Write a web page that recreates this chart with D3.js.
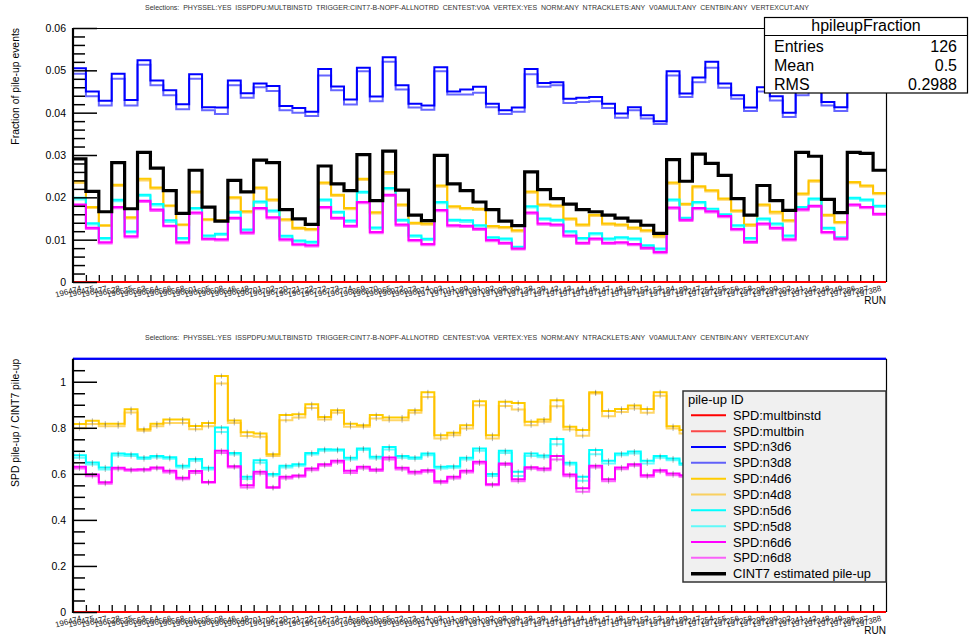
<!DOCTYPE html>
<html><head><meta charset="utf-8">
<script src="https://cdn.jsdelivr.net/npm/d3@7"></script>
<style>body{margin:0;background:#fff}svg{display:block;font-family:"Liberation Sans",Arial,sans-serif}</style>
</head><body><svg id="c" width="969" height="639"></svg>
<script>
const runs=["196474","196475","196477","196528","196535","196563","196564","196566","196568","196601","196605","196608","196646","196648","196701","196702","196720","196721","196722","196772","196773","196774","196869","196870","196965","196972","196973","196974","197003","197011","197089","197091","197092","197098","197099","197138","197139","197142","197143","197144","197145","197147","197148","197150","197152","197153","197184","197189","197247","197254","197255","197256","197258","197298","197299","197302","197341","197342","197348","197349","197386","197387","197388"];
const zeros=[0,0,0,0,0,0,0,0,0,0,0,0,0,0,0,0,0,0,0,0,0,0,0,0,0,0,0,0,0,0,0,0,0,0,0,0,0,0,0,0,0,0,0,0,0,0,0,0,0,0,0,0,0,0,0,0,0,0,0,0,0,0,0];
// top panel: fraction of pile-up events
const n3d6=[0.0505,0.0450,0.0428,0.0492,0.0430,0.0524,0.0476,0.0453,0.0420,0.0491,0.0413,0.0412,0.0476,0.0446,0.0469,0.0463,0.0416,0.0411,0.0402,0.0503,0.0462,0.0431,0.0506,0.0438,0.0531,0.0465,0.0421,0.0417,0.0507,0.0450,0.0455,0.0461,0.0421,0.0406,0.0412,0.0503,0.0470,0.0472,0.0433,0.0435,0.0437,0.0421,0.0398,0.0413,0.0394,0.0380,0.0498,0.0445,0.0483,0.0520,0.0469,0.0441,0.0412,0.0460,0.0439,0.0400,0.0452,0.0470,0.0425,0.0413,0.0480,0.0490,0.0475];
const n3d8=[0.0492,0.0439,0.0417,0.0480,0.0417,0.0513,0.0465,0.0441,0.0408,0.0480,0.0406,0.0397,0.0465,0.0435,0.0460,0.0451,0.0406,0.0400,0.0392,0.0488,0.0453,0.0419,0.0498,0.0427,0.0520,0.0455,0.0412,0.0407,0.0498,0.0443,0.0443,0.0447,0.0413,0.0397,0.0402,0.0491,0.0461,0.0465,0.0423,0.0425,0.0427,0.0411,0.0388,0.0406,0.0386,0.0373,0.0488,0.0437,0.0472,0.0506,0.0459,0.0433,0.0404,0.0450,0.0429,0.0390,0.0441,0.0460,0.0417,0.0404,0.0470,0.0480,0.0465];
const n4d6=[0.0238,0.0177,0.0134,0.0230,0.0153,0.0244,0.0223,0.0181,0.0136,0.0214,0.0148,0.0146,0.0200,0.0167,0.0223,0.0195,0.0148,0.0128,0.0125,0.0235,0.0206,0.0175,0.0244,0.0165,0.0260,0.0183,0.0140,0.0138,0.0228,0.0179,0.0175,0.0173,0.0132,0.0130,0.0122,0.0214,0.0183,0.0181,0.0150,0.0136,0.0159,0.0138,0.0136,0.0129,0.0122,0.0110,0.0235,0.0185,0.0226,0.0217,0.0197,0.0169,0.0136,0.0183,0.0166,0.0146,0.0209,0.0240,0.0159,0.0142,0.0236,0.0228,0.0210];
const n4d8=[0.0234,0.0175,0.0132,0.0227,0.0150,0.0240,0.0220,0.0179,0.0134,0.0211,0.0146,0.0144,0.0197,0.0164,0.0220,0.0192,0.0145,0.0125,0.0122,0.0232,0.0203,0.0172,0.0241,0.0162,0.0256,0.0180,0.0137,0.0135,0.0225,0.0176,0.0172,0.0170,0.0129,0.0127,0.0119,0.0211,0.0180,0.0178,0.0147,0.0133,0.0156,0.0135,0.0133,0.0125,0.0119,0.0106,0.0232,0.0182,0.0223,0.0214,0.0194,0.0166,0.0132,0.0180,0.0162,0.0143,0.0206,0.0237,0.0156,0.0139,0.0233,0.0225,0.0207];
const n5d6=[0.0199,0.0139,0.0104,0.0194,0.0119,0.0206,0.0184,0.0146,0.0104,0.0175,0.0110,0.0114,0.0166,0.0124,0.0190,0.0169,0.0109,0.0098,0.0095,0.0195,0.0166,0.0145,0.0213,0.0129,0.0222,0.0147,0.0110,0.0102,0.0189,0.0147,0.0146,0.0134,0.0106,0.0103,0.0083,0.0179,0.0150,0.0147,0.0120,0.0104,0.0115,0.0103,0.0106,0.0103,0.0087,0.0079,0.0195,0.0152,0.0189,0.0173,0.0160,0.0134,0.0104,0.0150,0.0138,0.0110,0.0177,0.0197,0.0128,0.0106,0.0199,0.0195,0.0180];
const n5d8=[0.0195,0.0136,0.0101,0.0191,0.0117,0.0203,0.0181,0.0142,0.0101,0.0172,0.0107,0.0111,0.0163,0.0121,0.0187,0.0166,0.0106,0.0095,0.0092,0.0192,0.0163,0.0142,0.0210,0.0126,0.0219,0.0144,0.0107,0.0099,0.0186,0.0144,0.0142,0.0131,0.0103,0.0100,0.0081,0.0176,0.0147,0.0144,0.0117,0.0101,0.0112,0.0100,0.0103,0.0100,0.0084,0.0076,0.0192,0.0149,0.0186,0.0169,0.0157,0.0131,0.0101,0.0147,0.0135,0.0107,0.0174,0.0194,0.0125,0.0103,0.0196,0.0192,0.0177];
const n6d6=[0.0183,0.0128,0.0094,0.0177,0.0108,0.0192,0.0171,0.0133,0.0094,0.0164,0.0102,0.0101,0.0152,0.0117,0.0175,0.0153,0.0101,0.0089,0.0087,0.0177,0.0152,0.0133,0.0189,0.0118,0.0206,0.0136,0.0099,0.0090,0.0170,0.0134,0.0133,0.0126,0.0099,0.0093,0.0079,0.0164,0.0138,0.0136,0.0110,0.0093,0.0103,0.0093,0.0094,0.0090,0.0081,0.0071,0.0176,0.0147,0.0175,0.0167,0.0156,0.0125,0.0095,0.0138,0.0128,0.0101,0.0172,0.0180,0.0118,0.0103,0.0183,0.0177,0.0161];
const n6d8=[0.0180,0.0125,0.0091,0.0174,0.0105,0.0189,0.0168,0.0131,0.0091,0.0161,0.0100,0.0098,0.0149,0.0114,0.0172,0.0150,0.0098,0.0087,0.0084,0.0174,0.0149,0.0130,0.0186,0.0115,0.0203,0.0133,0.0096,0.0087,0.0167,0.0131,0.0130,0.0123,0.0096,0.0090,0.0077,0.0161,0.0135,0.0133,0.0107,0.0090,0.0100,0.0090,0.0091,0.0087,0.0078,0.0068,0.0173,0.0144,0.0172,0.0164,0.0153,0.0122,0.0092,0.0135,0.0125,0.0098,0.0169,0.0177,0.0115,0.0100,0.0180,0.0174,0.0158];
const cint7=[0.0291,0.0214,0.0166,0.0282,0.0173,0.0306,0.0269,0.0216,0.0162,0.0264,0.0177,0.0144,0.0240,0.0213,0.0288,0.0282,0.0171,0.0149,0.0136,0.0274,0.0232,0.0216,0.0301,0.0192,0.0309,0.0217,0.0158,0.0145,0.0299,0.0232,0.0216,0.0189,0.0171,0.0144,0.0133,0.0260,0.0218,0.0197,0.0184,0.0171,0.0166,0.0158,0.0151,0.0144,0.0134,0.0115,0.0289,0.0238,0.0302,0.0280,0.0252,0.0197,0.0158,0.0228,0.0192,0.0169,0.0306,0.0297,0.0195,0.0164,0.0306,0.0304,0.0264];
// bottom panel: SPD pile-up / CINT7 pile-up
const r3d6=[1.74,2.10,2.58,1.74,2.49,1.71,1.77,2.10,2.59,1.86,2.33,2.86,1.98,2.09,1.63,1.64,2.43,2.76,2.96,1.84,1.99,2.00,1.68,2.28,1.72,2.14,2.66,2.88,1.70,1.94,2.11,2.44,2.46,2.82,3.10,1.93,2.16,2.40,2.35,2.54,2.63,2.66,2.64,2.87,2.94,3.30,1.72,1.87,1.60,1.86,1.86,2.24,2.61,2.02,2.29,2.37,1.48,1.58,2.18,2.52,1.57,1.61,1.80];
const r3d8=[1.69,2.05,2.51,1.70,2.41,1.68,1.73,2.04,2.52,1.82,2.29,2.76,1.94,2.04,1.60,1.60,2.37,2.68,2.88,1.78,1.95,1.94,1.65,2.22,1.68,2.10,2.61,2.81,1.67,1.91,2.05,2.37,2.42,2.76,3.02,1.89,2.11,2.36,2.30,2.49,2.57,2.60,2.57,2.82,2.88,3.24,1.69,1.84,1.56,1.81,1.82,2.20,2.56,1.97,2.23,2.31,1.44,1.55,2.14,2.46,1.54,1.58,1.76];
const r4d6=[0.816,0.830,0.818,0.818,0.881,0.794,0.818,0.836,0.836,0.808,0.821,1.025,0.832,0.781,0.775,0.685,0.855,0.859,0.902,0.847,0.876,0.818,0.811,0.855,0.845,0.845,0.876,0.954,0.768,0.778,0.811,0.915,0.768,0.913,0.908,0.826,0.836,0.920,0.804,0.790,0.954,0.873,0.882,0.897,0.882,0.954,0.807,0.790,0.748,0.775,0.782,0.858,0.861,0.803,0.865,0.864,0.683,0.808,0.815,0.866,0.771,0.750,0.795];
const r4d8=[0.798,0.816,0.807,0.807,0.866,0.787,0.807,0.821,0.821,0.794,0.807,0.992,0.821,0.764,0.761,0.678,0.833,0.845,0.886,0.836,0.865,0.804,0.804,0.840,0.833,0.833,0.865,0.934,0.753,0.768,0.797,0.898,0.753,0.895,0.879,0.811,0.826,0.894,0.792,0.765,0.949,0.850,0.869,0.884,0.865,0.939,0.797,0.775,0.736,0.763,0.770,0.846,0.849,0.791,0.853,0.852,0.671,0.796,0.803,0.854,0.759,0.738,0.783];
const r5d6=[0.681,0.649,0.628,0.688,0.685,0.671,0.678,0.672,0.635,0.664,0.626,0.801,0.691,0.587,0.659,0.599,0.635,0.642,0.691,0.707,0.706,0.670,0.710,0.674,0.717,0.678,0.671,0.688,0.631,0.633,0.670,0.710,0.599,0.700,0.609,0.688,0.680,0.751,0.648,0.587,0.703,0.657,0.688,0.697,0.657,0.677,0.667,0.645,0.626,0.618,0.635,0.680,0.658,0.658,0.719,0.651,0.578,0.663,0.656,0.646,0.650,0.641,0.682];
const r5d8=[0.670,0.641,0.619,0.680,0.677,0.664,0.671,0.665,0.628,0.657,0.619,0.782,0.684,0.578,0.648,0.593,0.628,0.635,0.684,0.700,0.700,0.662,0.703,0.667,0.706,0.670,0.664,0.681,0.623,0.626,0.662,0.700,0.591,0.691,0.591,0.678,0.672,0.729,0.641,0.570,0.685,0.645,0.681,0.688,0.645,0.670,0.659,0.638,0.617,0.609,0.626,0.671,0.649,0.649,0.710,0.642,0.569,0.654,0.647,0.637,0.641,0.632,0.673];
const r6d6=[0.631,0.597,0.563,0.626,0.619,0.620,0.628,0.613,0.583,0.612,0.565,0.700,0.633,0.550,0.609,0.542,0.587,0.593,0.623,0.642,0.657,0.613,0.631,0.619,0.671,0.626,0.609,0.616,0.568,0.587,0.613,0.652,0.555,0.645,0.576,0.629,0.623,0.677,0.597,0.537,0.635,0.576,0.628,0.642,0.594,0.616,0.602,0.594,0.579,0.596,0.619,0.635,0.601,0.605,0.667,0.598,0.562,0.606,0.605,0.628,0.598,0.582,0.610];
const r6d8=[0.623,0.590,0.557,0.620,0.613,0.615,0.622,0.606,0.577,0.604,0.561,0.691,0.628,0.541,0.600,0.538,0.580,0.587,0.616,0.635,0.649,0.604,0.623,0.612,0.662,0.619,0.602,0.609,0.561,0.580,0.606,0.645,0.550,0.638,0.568,0.622,0.616,0.662,0.590,0.522,0.628,0.568,0.620,0.635,0.587,0.609,0.594,0.587,0.572,0.589,0.612,0.628,0.594,0.598,0.660,0.591,0.555,0.599,0.598,0.621,0.591,0.575,0.603];
const legendLabels=["SPD:multbinstd","SPD:multbin","SPD:n3d6","SPD:n3d8","SPD:n4d6","SPD:n4d8","SPD:n5d6","SPD:n5d8","SPD:n6d6","SPD:n6d8","CINT7 estimated pile-up"];
const topTicks=[0,0.01,0.02,0.03,0.04,0.05,0.06];
const botTicks=[0,0.2,0.4,0.6,0.8,1];
const selText="Selections:  PHYSSEL:YES  ISSPDPU:MULTBINSTD  TRIGGER:CINT7-B-NOPF-ALLNOTRD  CENTEST:V0A  VERTEX:YES  NORM:ANY  NTRACKLETS:ANY  V0AMULT:ANY  CENTBIN:ANY  VERTEXCUT:ANY";
const stats=[["Entries","126"],["Mean","0.5"],["RMS","0.2988"]];

// styles
const styles=[
 {c:"#ff0000",o:1,w:2},{c:"#ff0000",o:0.7,w:2},
 {c:"#0000ff",o:1,w:2},{c:"#0000ff",o:0.6,w:2},
 {c:"#ffcc00",o:1,w:2},{c:"#ffbb00",o:0.6,w:2},
 {c:"#00ffff",o:1,w:2},{c:"#00ffff",o:0.6,w:2},
 {c:"#ff00ff",o:1,w:2},{c:"#ff00ff",o:0.6,w:2},
 {c:"#000000",o:1,w:3.2}];

const svg=d3.select("#c");
svg.append("rect").attr("width",969).attr("height",639).attr("fill","#fff");
const X0=73,X1=886;
const nb=runs.length;
const x=d3.scaleLinear().domain([0,nb]).range([X0,X1]);
const xb=d3.scaleBand().domain(runs).range([X0,X1]);

function panel(o){
  const y=d3.scaleLinear().domain(o.dom).range([o.yb,o.yt]).clamp(true);
  const g=svg.append("g");
  const cid="clip"+o.id;
  svg.append("defs").append("clipPath").attr("id",cid).append("rect")
    .attr("x",X0).attr("y",o.yt-2).attr("width",X1-X0).attr("height",o.yb-o.yt+4);
  g.append("line").attr("x1",X0).attr("x2",X1).attr("y1",o.yt+0.5).attr("y2",o.yt+0.5).attr("stroke","#000").attr("stroke-width",1);
  g.append("line").attr("x1",X1+0.5).attr("x2",X1+0.5).attr("y1",o.yt).attr("y2",o.yb).attr("stroke","#000").attr("stroke-width",1.2);
  const xa=g.append("g").attr("transform",`translate(0,${o.yb})`)
    .call(d3.axisBottom(x).tickValues(d3.range(1,nb)).tickSize(-7).tickFormat(""));
  xa.select(".domain").remove();
  xa.selectAll("line").attr("stroke","#000").attr("stroke-width",1.3);
  const xl=g.append("g").attr("transform",`translate(0,${o.yb})`)
    .call(d3.axisBottom(xb).tickSize(0).tickPadding(0));
  xl.select(".domain").remove();
  xl.selectAll("text").attr("x",0).attr("y",9).attr("dy",0)
    .attr("text-anchor","end").attr("transform","rotate(-15)")
    .attr("font-size",8).attr("fill","#222").attr("font-family","Liberation Sans, Arial, sans-serif");
  const hg=g.append("g").attr("clip-path",`url(#${cid})`);
  const line=d3.line().x(d=>x(d[0])).y(d=>y(d[1]));
  o.series.forEach(s=>{
    const pts=[];
    s.v.forEach((v,i)=>{pts.push([i,v]);pts.push([i+1,v]);});
    hg.append("path").attr("d",line(pts)).attr("fill","none")
      .attr("stroke",s.st.c).attr("stroke-opacity",s.st.o).attr("stroke-width",s.st.w)
      .attr("stroke-linejoin","miter");
    if(o.errbars && s.eb){
      hg.append("g").selectAll("line").data(s.v).join("line")
        .attr("x1",(d,i)=>x(i+0.5)).attr("x2",(d,i)=>x(i+0.5))
        .attr("y1",d=>y(d)-2.5).attr("y2",d=>y(d)+2.5)
        .attr("stroke","#555").attr("stroke-opacity",0.45).attr("stroke-width",1);
    }
  });
  const ym=g.append("g").attr("transform",`translate(${X0},0)`)
    .call(d3.axisLeft(y).tickValues(o.minor).tickSize(-12).tickFormat(""));
  ym.select(".domain").remove();
  ym.selectAll("line").attr("stroke","#000").attr("stroke-width",1.5);
  const ya=g.append("g").attr("transform",`translate(${X0},0)`)
    .call(d3.axisLeft(y).tickValues(o.major).tickSize(-24).tickPadding(7).tickFormat(d=>String(+d.toFixed(2))));
  ya.select(".domain").remove();
  ya.selectAll("line").attr("stroke","#000").attr("stroke-width",1.5);
  ya.selectAll("text").attr("font-size",10.5).attr("fill","#000").attr("font-family","Liberation Sans, Arial, sans-serif");
  g.append("line").attr("x1",X0).attr("x2",X0).attr("y1",o.yt).attr("y2",o.yb+1).attr("stroke","#000").attr("stroke-width",2.2);
  g.append("text").attr("x",145).attr("y",o.yt-18.5).attr("font-size",7).attr("fill","#333")
    .attr("textLength",664).attr("lengthAdjust","spacingAndGlyphs").style("white-space","pre").text(selText);
  g.append("text").attr("transform",`translate(18.5,${o.yt}) rotate(-90)`).attr("text-anchor","end")
    .attr("font-size",10.4).attr("fill","#000").text(o.ytitle);
  g.append("text").attr("x",X1).attr("y",o.yb+22).attr("text-anchor","end").attr("font-size",10).attr("fill","#000").text("RUN");
  return y;
}
const allTop=[zeros,zeros,n3d6,n3d8,n4d6,n4d8,n5d6,n5d8,n6d6,n6d8,cint7];
panel({id:"t",dom:[0,0.06],yt:28,yb:282,major:topTicks,minor:d3.range(0,31).map(i=>i*0.002).filter((d,i)=>i%5!==0),
  ytitle:"Fraction of pile-up events",series:allTop.map((v,i)=>({v,st:styles[i],eb:false}))});
const allBot=[zeros,zeros,r3d6,r3d8,r4d6,r4d8,r5d6,r5d8,r6d6,r6d8];
panel({id:"b",dom:[0,1.1],yt:358.7,yb:612,major:botTicks,minor:d3.range(0,22).map(i=>i*0.05).filter((d,i)=>i%4!==0),
  errbars:true,ytitle:"SPD pile-up / CINT7 pile-up",series:allBot.map((v,i)=>({v,st:styles[i],eb:i>=4}))});

const sb=svg.append("g");
sb.append("rect").attr("x",764.5).attr("y",17.5).attr("width",203).attr("height",75.5).attr("fill","#fff").attr("stroke","#000").attr("stroke-width",1.2);
sb.append("line").attr("x1",764.5).attr("x2",967.5).attr("y1",35.5).attr("y2",35.5).attr("stroke","#000").attr("stroke-width",1.2);
sb.append("text").attr("x",866).attr("y",31).attr("text-anchor","middle").attr("font-size",16).text("hpileupFraction");
stats.forEach((s,i)=>{
  const yy=51.5+i*19;
  sb.append("text").attr("x",774).attr("y",yy).attr("font-size",16).text(s[0]);
  sb.append("text").attr("x",957).attr("y",yy).attr("text-anchor","end").attr("font-size",16).text(s[1]);
});

const lg=svg.append("g");
lg.append("rect").attr("x",683).attr("y",391).attr("width",203).attr("height",191).attr("fill","#f0f0f0").attr("stroke","#333").attr("stroke-width",1.5);
lg.append("text").attr("x",688).attr("y",404).attr("font-size",13).text("pile-up ID");
legendLabels.forEach((l,i)=>{
  const yy=415.3+i*15.84;
  const st=styles[i];
  lg.append("line").attr("x1",691).attr("x2",726).attr("y1",yy).attr("y2",yy)
    .attr("stroke",st.c).attr("stroke-opacity",st.o).attr("stroke-width",i===10?3.5:2);
  lg.append("text").attr("x",733).attr("y",yy+4.5).attr("font-size",12.8).text(l);
});
</script></body></html>
